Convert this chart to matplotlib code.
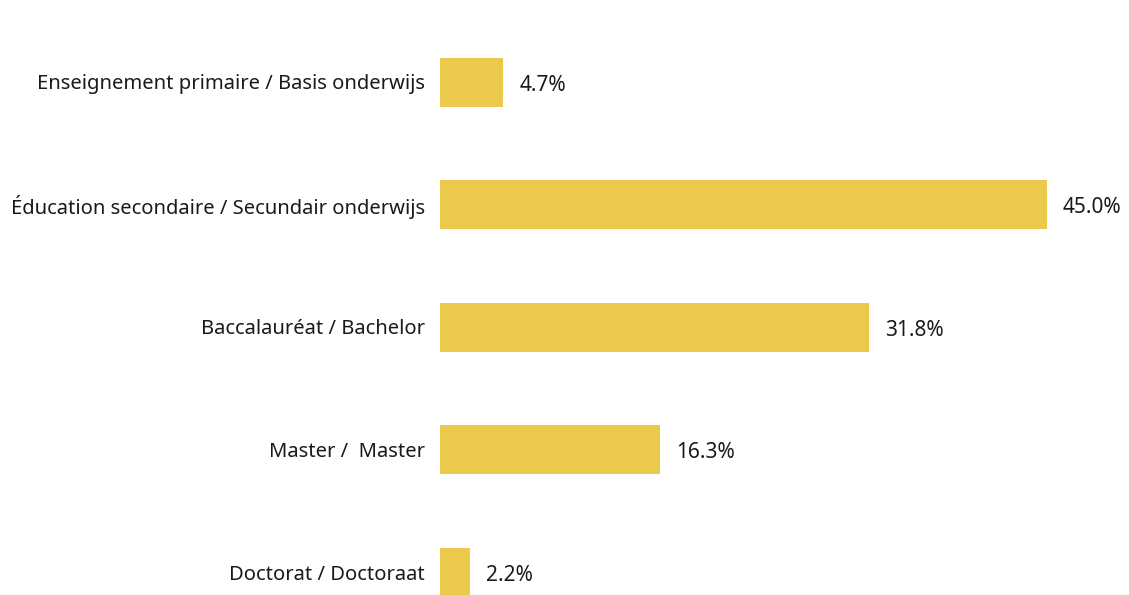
import matplotlib
matplotlib.use('Agg')
import matplotlib.pyplot as plt

# données
categories = [
    'Enseignement primaire / Basis onderwijs',
    'Éducation secondaire / Secundair onderwijs',
    'Baccalauréat / Bachelor',
    'Master /  Master',
    'Doctorat / Doctoraat',
]
values = [4.7, 45.0, 31.8, 16.3, 2.2]

bar_color = '#EBC94A'
text_color = '#1a1a1a'
plt.rcParams['font.family'] = ['Noto Sans', 'DejaVu Sans']

fig = plt.figure(figsize=(11.29, 5.95), dpi=100)
ax = fig.add_axes([440 / 1129, 0, 689 / 1129, 1])

pos = list(range(len(categories)))
ax.barh(pos, values, height=0.4, color=bar_color)

# étiquettes de valeurs
for p, v in zip(pos, values):
    ax.annotate(f'{v:.1f}%', (v, p), xytext=(11.5, -2.5), textcoords='offset points',
                va='center', ha='left', fontsize=15, color=text_color)

ax.set_yticks(pos)
ax.set_yticklabels(categories, fontsize=14.5, color=text_color)
ax.tick_params(axis='y', length=0, pad=11)
ax.set_xticks([])
ax.set_xlim(0, 689 / 13.49)
ax.set_ylim((595 - 82) / 122.5, -82 / 122.5)
for s in ax.spines.values():
    s.set_visible(False)

fig.savefig('out.png', dpi=100)
